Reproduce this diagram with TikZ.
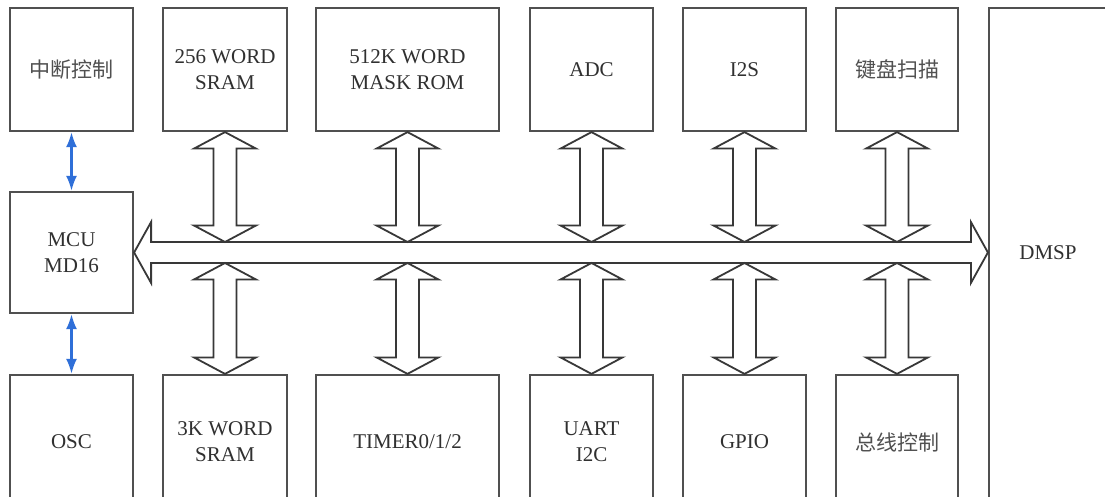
\documentclass[tikz,border=0pt]{standalone}
\usepackage{fontspec}
\setmainfont{Liberation Serif}
\newfontfamily\cjk{Noto Sans CJK SC}
\usetikzlibrary{calc,arrows.meta}
\definecolor{boxline}{HTML}{505050}
\definecolor{arrline}{HTML}{383838}
\definecolor{txt}{HTML}{303030}
\definecolor{cjktxt}{HTML}{505050}
\definecolor{blueline}{HTML}{2F6FD8}
\tikzset{
  blk/.style={draw=boxline, line width=2.2pt, fill=white, align=center, text=txt,
    font=\fontsize{21}{26}\selectfont, inner sep=0pt},
  cjkblk/.style={blk, text=cjktxt, font=\fontsize{21}{26}\selectfont\cjk},
  hollow/.style={draw=arrline, line width=1.8pt, fill=white, line join=miter},
  bluearr/.style={draw=blueline, line width=2.4pt,
    arrows={Latex[length=15pt,width=11pt]-Latex[length=15pt,width=11pt]}}
}
\newcommand\vdarrow[2]{%
  \draw[hollow] let \p1=#1, \p2=#2 in
    (\x1,\y1) -- (\x1+31pt,\y1-16.5pt) -- (\x1+11.5pt,\y1-16.5pt)
    -- (\x1+11.5pt,\y2+16.5pt) -- (\x1+31pt,\y2+16.5pt) -- (\x1,\y2)
    -- (\x1-31pt,\y2+16.5pt) -- (\x1-11.5pt,\y2+16.5pt)
    -- (\x1-11.5pt,\y1-16.5pt) -- (\x1-31pt,\y1-16.5pt) -- cycle;}
\newcommand\hdarrow[2]{%
  \draw[hollow] let \p1=#1, \p2=#2 in
    (\x1,\y1) -- (\x1+17pt,\y1+30.5pt) -- (\x1+17pt,\y1+10.5pt)
    -- (\x2-17pt,\y1+10.5pt) -- (\x2-17pt,\y1+30.5pt) -- (\x2,\y1)
    -- (\x2-17pt,\y1-30.5pt) -- (\x2-17pt,\y1-10.5pt)
    -- (\x1+17pt,\y1-10.5pt) -- (\x1+17pt,\y1-30.5pt) -- cycle;}
\begin{document}
\begin{tikzpicture}[x=1pt,y=-1pt]
\useasboundingbox (0,0) rectangle (1105,497);
\clip (0,0) rectangle (1105,497);
\fill[white] (0,0) rectangle (1105,497);
% top row
\node[cjkblk, minimum width=123pt, minimum height=123pt] (intr) at (71.5,69.5) {中断控制};
\node[blk, minimum width=124pt, minimum height=123pt] (sram1) at (225,69.5) {256 WORD\\SRAM};
\node[blk, minimum width=183pt, minimum height=123pt] (rom) at (407.5,69.5) {512K WORD\\MASK ROM};
\node[blk, minimum width=123pt, minimum height=123pt] (adc) at (591.5,69.5) {ADC};
\node[blk, minimum width=123pt, minimum height=123pt] (iis) at (744.5,69.5) {I2S};
\node[cjkblk, minimum width=122pt, minimum height=123pt] (key) at (897,69.5) {键盘扫描};
% middle
\node[blk, minimum width=123pt, minimum height=121pt] (mcu) at (71.5,252.5) {MCU\\MD16};
\node[blk, minimum width=118pt, minimum height=490pt] (dmsp) at (1048,253) {DMSP};
% bottom row
\node[blk, minimum width=123pt, minimum height=134pt] (osc) at (71.5,442) {OSC};
\node[blk, minimum width=124pt, minimum height=134pt] (sram3) at (225,442) {3K WORD\\SRAM};
\node[blk, minimum width=183pt, minimum height=134pt] (timer) at (407.5,442) {TIMER0/1/2};
\node[blk, minimum width=123pt, minimum height=134pt] (uart) at (591.5,442) {UART\\I2C};
\node[blk, minimum width=123pt, minimum height=134pt] (gpio) at (744.5,442) {GPIO};
\node[cjkblk, minimum width=122pt, minimum height=134pt] (busc) at (897,442) {总线控制};
% bus
\coordinate (bt) at ($(mcu.east)+(0,-10.5)$);
\coordinate (bb) at ($(mcu.east)+(0,10.5)$);
\hdarrow{(mcu.east)}{(dmsp.west)}
% vertical bus connections
\foreach \t/\b in {sram1/sram3, rom/timer, adc/uart, iis/gpio, key/busc}{
  \vdarrow{(\t.south)}{(\t.south |- bt)}
  \vdarrow{(\b.north |- bb)}{(\b.north)}
}
% blue links
\draw[bluearr] (intr.south) -- (mcu.north);
\draw[bluearr] (mcu.south) -- (osc.north);
\end{tikzpicture}
\end{document}
